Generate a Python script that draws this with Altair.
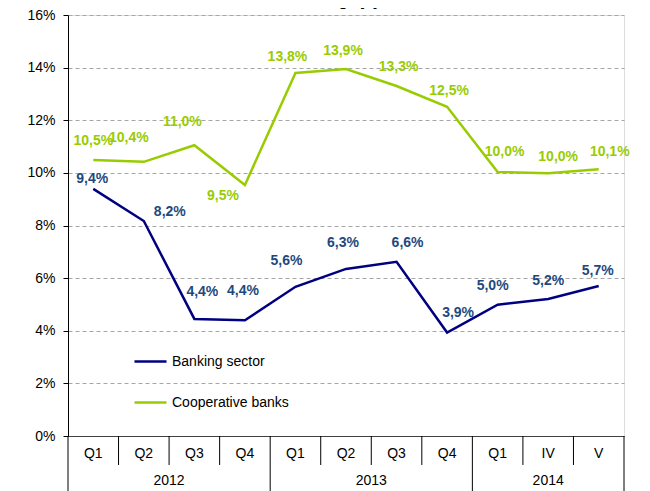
import altair as alt
import pandas as pd

# ---------------- data ----------------
quarters = ["Q1", "Q2", "Q3", "Q4", "Q1", "Q2", "Q3", "Q4", "Q1", "IV", "V"]
years = ["2012", "2013", "2014"]
year_counts = [4, 4, 3]
series_names = ["Banking sector", "Cooperative banks"]
banking = [9.39, 8.17, 4.45, 4.40, 5.67, 6.35, 6.62, 3.93, 4.99, 5.21, 5.70]
cooperative = [10.49, 10.42, 11.05, 9.54, 13.80, 13.95, 13.30, 12.51, 10.03, 9.99, 10.14]
banking_labels = ["9,4%", "8,2%", "4,4%", "4,4%", "5,6%", "6,3%", "6,6%", "3,9%", "5,0%", "5,2%", "5,7%"]
coop_labels = ["10,5%", "10,4%", "11,0%", "9,5%", "13,8%", "13,9%", "13,3%", "12,5%", "10,0%", "10,0%", "10,1%"]
y_ticks = [0, 2, 4, 6, 8, 10, 12, 14, 16]

# label offsets (pixels, relative to the point)
bank_dx = [-1, 26, 8, -2, -9, -3, 11, 11, -5, 0, -1]
bank_dy = [-10, -9, -27, -29, -26, -26, -19, -20, -19, -18, -15]
coop_dx = [0, -15, -12, -22, -8, -3, 2, 2, 7, 10, 11]
coop_dy = [-19, -24, -23, 11, -16, -18, -19, -16, -20, -16, -17]

# ---------------- layout ----------------
W, H = 556, 421
N = len(quarters)
PX_X = W / N
PX_Y = H / 16.0
FONT = "Liberation Sans"
NAVY = "#000080"
GREEN = "#99CC00"
LABEL_BLUE = "#1F497D"

idx = list(range(N))
xs = [i + 0.5 for i in idx]

lines_df = pd.DataFrame(
    {"x": xs * 2,
     "value": banking + cooperative,
     "series": [series_names[0]] * N + [series_names[1]] * N,
     "order": idx * 2}
)

bank_lab = pd.DataFrame({
    "x": [x + dx / PX_X for x, dx in zip(xs, bank_dx)],
    "y": [v - dy / PX_Y for v, dy in zip(banking, bank_dy)],
    "label": banking_labels,
})
coop_lab = pd.DataFrame({
    "x": [x + dx / PX_X for x, dx in zip(xs, coop_dx)],
    "y": [v - dy / PX_Y for v, dy in zip(cooperative, coop_dy)],
    "label": coop_labels,
})

year_bounds = [0]
for c in year_counts:
    year_bounds.append(year_bounds[-1] + c)
year_centers = [(a + b) / 2 for a, b in zip(year_bounds[:-1], year_bounds[1:])]
short_bounds = [b for b in range(N + 1) if b not in year_bounds]

q_df = pd.DataFrame({"x": xs, "label": quarters})
yr_df = pd.DataFrame({"x": year_centers, "label": years})
long_df = pd.DataFrame({"x": year_bounds})
short_df = pd.DataFrame({"x": short_bounds})

xscale = alt.Scale(domain=[0, N], nice=False, zero=False)
yscale = alt.Scale(domain=[0, 16], nice=False)

X = lambda f="x": alt.X(f"{f}:Q", scale=xscale,
                        axis=alt.Axis(labels=False, ticks=False, grid=False, title=None,
                                      domainColor="#404040", domainWidth=1))

base_lines = alt.Chart(lines_df).mark_line(strokeWidth=2.5).encode(
    x=X(),
    y=alt.Y("value:Q", scale=yscale,
            axis=alt.Axis(values=y_ticks, labelExpr="datum.value + '%'", title=None,
                          grid=True, gridColor="#A6A6A6", gridDash=[4, 3], gridWidth=1,
                          domainColor="black", tickColor="black", tickSize=5,
                          labelFont=FONT, labelFontSize=14, labelColor="black",
                          labelPadding=8)),
    color=alt.Color("series:N",
                    scale=alt.Scale(domain=series_names, range=[NAVY, GREEN]),
                    legend=alt.Legend(title=None, orient="none", legendX=65, legendY=329,
                                      symbolType="stroke", symbolSize=1024,
                                      symbolStrokeWidth=2.5, labelFont=FONT,
                                      labelFontSize=14, labelColor="black",
                                      rowPadding=16, labelOffset=4, padding=0)),
    order="order:Q",
)

text_kw = dict(font=FONT, fontSize=14, fontWeight="bold", align="center", baseline="middle")

bank_text = alt.Chart(bank_lab).mark_text(color=LABEL_BLUE, **text_kw).encode(
    x=alt.X("x:Q", scale=xscale), y=alt.Y("y:Q", scale=yscale), text="label:N")
coop_text = alt.Chart(coop_lab).mark_text(color=GREEN, **text_kw).encode(
    x=alt.X("x:Q", scale=xscale), y=alt.Y("y:Q", scale=yscale), text="label:N")

short_rules = alt.Chart(short_df).mark_rule(color="black", strokeWidth=1).encode(
    x=alt.X("x:Q", scale=xscale), y=alt.value(H), y2=alt.value(H + 29))
long_rules = alt.Chart(long_df).mark_rule(color="black", strokeWidth=1).encode(
    x=alt.X("x:Q", scale=xscale), y=alt.value(H), y2=alt.value(H + 60))

q_text = alt.Chart(q_df).mark_text(font=FONT, fontSize=14, color="black",
                                   align="center", baseline="middle").encode(
    x=alt.X("x:Q", scale=xscale), y=alt.value(H + 18), text="label:N")
yr_text = alt.Chart(yr_df).mark_text(font=FONT, fontSize=14, color="black",
                                     align="center", baseline="middle").encode(
    x=alt.X("x:Q", scale=xscale), y=alt.value(H + 45), text="label:N")

title_text = alt.Chart(pd.DataFrame({"t": ["Change y/y"]})).mark_text(
    font=FONT, fontSize=15, fontWeight="bold", color="black",
    align="center", baseline="alphabetic").encode(
    x=alt.value(W / 2 - 5), y=alt.value(-9), text="t:N")

chart = alt.layer(
    base_lines, bank_text, coop_text, short_rules, long_rules, q_text, yr_text, title_text
).properties(
    width=W, height=H,
    autosize=alt.AutoSizeParams(type="none"),
    padding={"left": 60, "top": 7, "right": 10, "bottom": 56},
).configure_view(stroke=None).configure(background="white")

chart.save("out.html", embed_options={"renderer": "svg", "actions": False})
